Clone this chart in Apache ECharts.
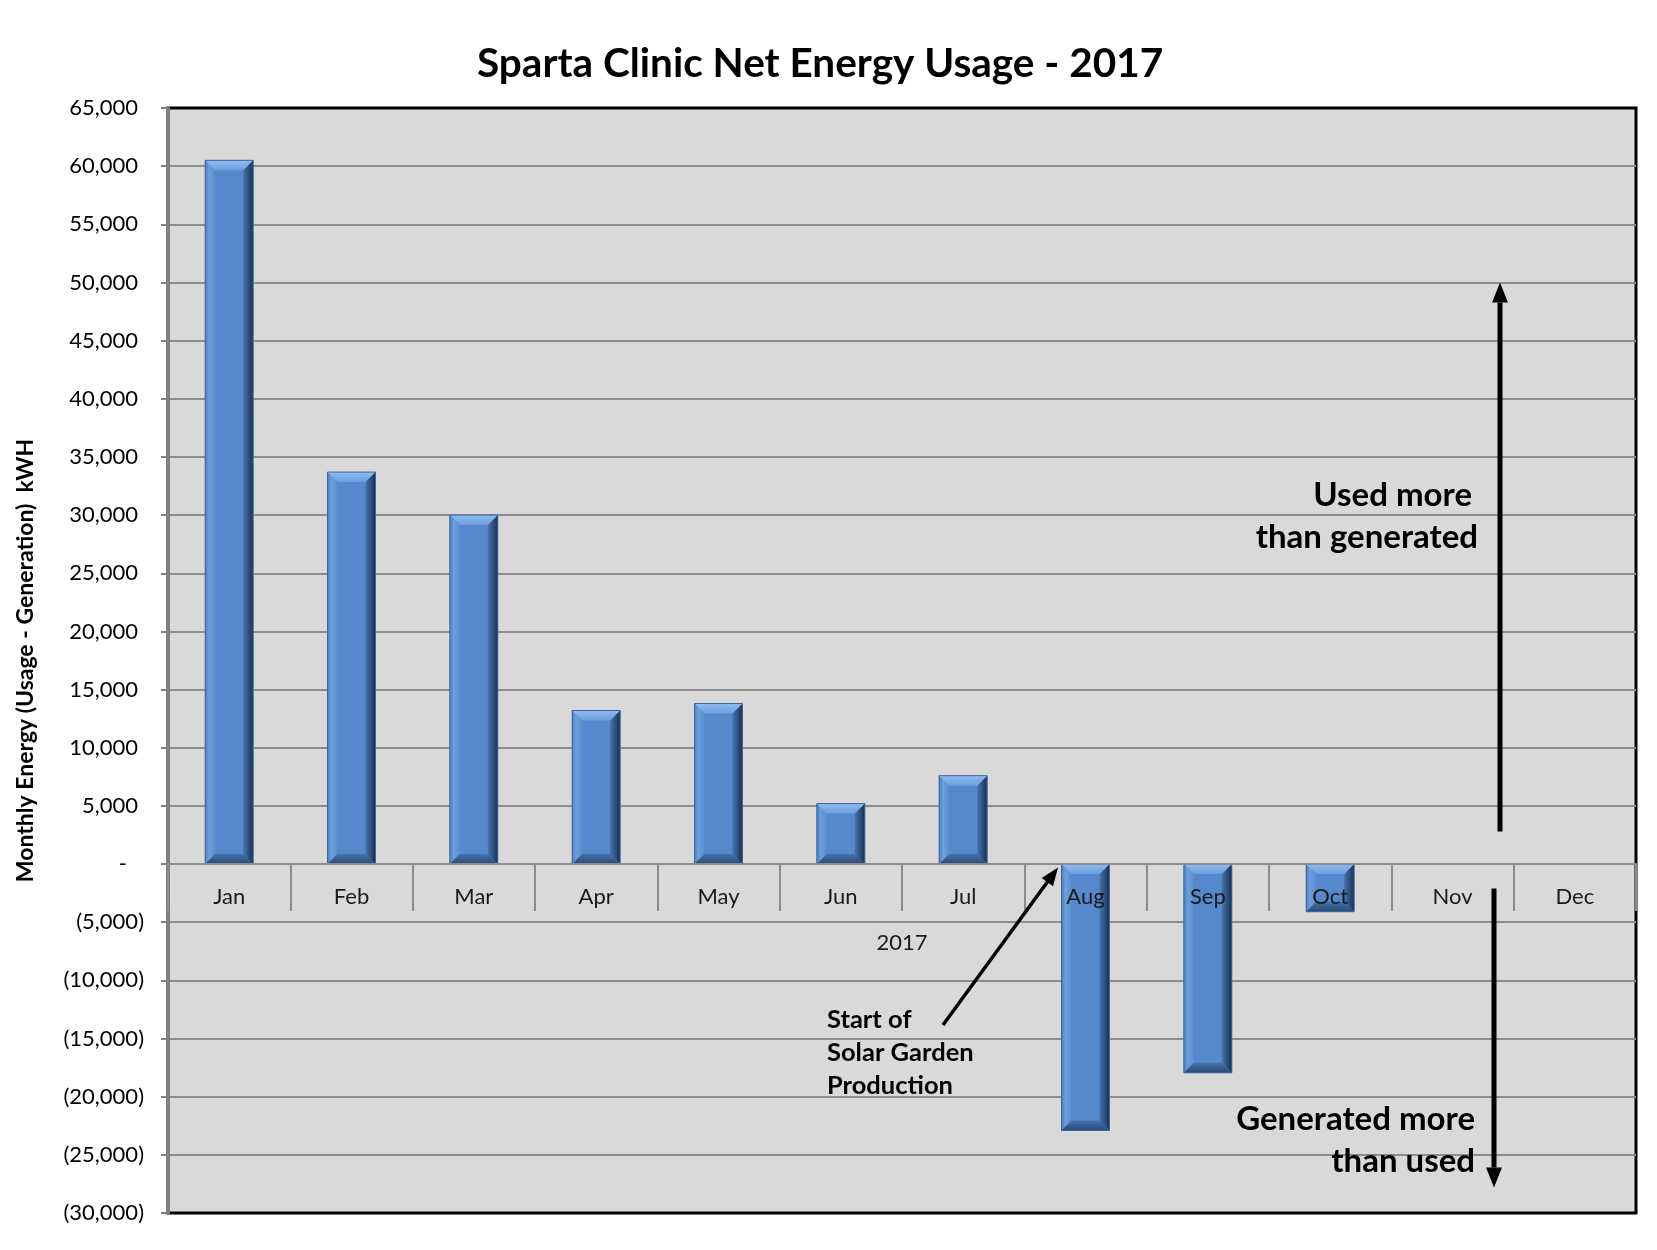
<!DOCTYPE html>
<html>
<head>
<meta charset="utf-8">
<script src="https://cdn.jsdelivr.net/npm/echarts@6/dist/echarts.min.js"></script>
<style>
html,body{margin:0;padding:0;background:#fff;}
#chart{width:1657px;height:1250px;}
</style>
</head>
<body>
<div id="chart"></div>
<script>
// ---- data ----
const titleText = 'Sparta Clinic Net Energy Usage - 2017';
const months = ['Jan','Feb','Mar','Apr','May','Jun','Jul','Aug','Sep','Oct','Nov','Dec'];
const netEnergy = [60500, 33700, 30000, 13200, 13800, 5200, 7600, -22900, -17950, -4100, null, null];
const yAxisTitle = 'Monthly Energy (Usage - Generation)  kWH';
const xAxisGroupLabel = '2017';
const yMin = -30000, yMax = 65000, yStep = 5000;
const noteUp = ['Used more', 'than generated'];
const noteDown = ['Generated more', 'than used'];
const noteSolar = ['Start of', 'Solar Garden', 'Production'];

const FONT = 'Lato, "Open Sans", sans-serif';

function fmtNum(v){ return Math.abs(v).toLocaleString('en-US'); }

const chart = echarts.init(document.getElementById('chart'), null, {renderer:'canvas'});

const GRID = {left:168, right:21, top:108, bottom:37};
const plotH = 1250 - GRID.top - GRID.bottom;
const zeroOffset = plotH * (0 - yMin) / (yMax - yMin);

const barData = months.map((m, i) => [i, netEnergy[i]]);

// bevelled bar drawn through the axes' own coordinate conversion
function renderBevelBar(params, api){
  const v = api.value(1);
  if (v === null || v === undefined || isNaN(v)) return null;
  const i = api.value(0);
  const pZero = api.coord([i, 0]);
  const pVal = api.coord([i, v]);
  const bw = api.size([1, 0])[0] * 0.392;
  const x0 = pZero[0] - bw/2, x1 = pZero[0] + bw/2;
  const yTop = Math.min(pZero[1], pVal[1]), yBot = Math.max(pZero[1], pVal[1]);
  const d = Math.min(10, (yBot - yTop)/2);
  const G = echarts.graphic;
  return {
    type:'group',
    children:[
      {type:'rect', shape:{x:x0, y:yTop, width:bw, height:yBot-yTop}, style:{fill:'#5588cc'}},
      {type:'polygon', shape:{points:[[x0,yTop],[x0+d,yTop+d],[x0+d,yBot-d],[x0,yBot]]},
        style:{fill:new G.LinearGradient(0,0,1,0,[{offset:0,color:'#4f80c2'},{offset:0.4,color:'#6d9fdc'},{offset:1,color:'#5a8dd0'}])}},
      {type:'polygon', shape:{points:[[x1,yTop],[x1-d,yTop+d],[x1-d,yBot-d],[x1,yBot]]},
        style:{fill:new G.LinearGradient(0,0,1,0,[{offset:0,color:'#4674b0'},{offset:0.6,color:'#2c4c78'},{offset:1,color:'#1b2f4c'}])}},
      {type:'polygon', shape:{points:[[x0,yTop],[x1,yTop],[x1-d,yTop+d],[x0+d,yTop+d]]},
        style:{fill:new G.LinearGradient(0,0,0,1,[{offset:0,color:'#8fbcf2'},{offset:1,color:'#6c9fe0'}])}},
      {type:'polygon', shape:{points:[[x0,yBot],[x1,yBot],[x1-d,yBot-d],[x0+d,yBot-d]]},
        style:{fill:new G.LinearGradient(0,0,0,1,[{offset:0,color:'#4472ad'},{offset:1,color:'#2a4a76'}])}},
      {type:'rect', shape:{x:x0, y:yTop, width:bw, height:yBot-yTop}, style:{fill:'none', stroke:'#3a659c', lineWidth:1}}
    ]
  };
}

chart.setOption({
  animation:false,
  backgroundColor:'#ffffff',
  title:{
    text:titleText,
    left:472,
    top:38,
    textStyle:{fontFamily:FONT, fontWeight:'bold', fontSize:40.5, color:'#000'}
  },
  grid:{
    left:GRID.left, right:GRID.right, top:GRID.top, bottom:GRID.bottom,
    outerBoundsMode:'none', containLabel:false,
    show:true, backgroundColor:'#d9d9d9', borderColor:'#000', borderWidth:3
  },
  xAxis:{
    type:'category',
    data:months,
    position:'bottom',
    offset:-zeroOffset,
    z:5,
    axisLine:{onZero:false, lineStyle:{color:'#8c8c8c', width:2}},
    axisTick:{show:true, length:47, interval:0, lineStyle:{color:'#8c8c8c', width:2}},
    axisLabel:{interval:0, margin:22, fontFamily:FONT, fontSize:22, color:'#1a1a1a'},
    name:xAxisGroupLabel,
    nameLocation:'middle',
    nameGap:68,
    nameTextStyle:{fontFamily:FONT, fontSize:22, color:'#1a1a1a'},
    splitLine:{show:false}
  },
  yAxis:{
    type:'value',
    min:yMin, max:yMax, interval:yStep,
    axisLine:{show:true, lineStyle:{color:'#7f7f7f', width:3}},
    axisTick:{show:true, length:7, lineStyle:{color:'#7f7f7f', width:2}},
    splitLine:{show:true, showMinLine:false, showMaxLine:false, lineStyle:{color:'#8c8c8c', width:2}},
    axisLabel:{
      margin:24,
      fontFamily:FONT, fontSize:22, color:'#000',
      formatter:function(v){
        if(v>0) return '{p|'+fmtNum(v)+'}';
        if(v<0) return '{n|('+fmtNum(v)+')}';
        return '{z|-}';
      },
      rich:{
        p:{fontFamily:FONT, fontSize:22, color:'#000', padding:[0,6,0,0]},
        n:{fontFamily:FONT, fontSize:22, color:'#000'},
        z:{fontFamily:FONT, fontSize:22, color:'#000', padding:[0,17,0,0]}
      }
    },
    name:yAxisTitle,
    nameLocation:'middle',
    nameRotate:90,
    nameGap:131,
    nameTextStyle:{fontFamily:FONT, fontWeight:'bold', fontSize:23, color:'#000'}
  },
  series:[{
    type:'custom',
    name:'Net Energy',
    data:barData,
    encode:{x:0, y:1},
    renderItem:renderBevelBar,
    z:2
  }]
});

// ---- annotations (arrows and notes) ----
function py(v){ return chart.convertToPixel({yAxisIndex:0}, v); }
function arrowHead(tx, ty, fx, fy, len, half){
  const dx = tx-fx, dy = ty-fy, L = Math.hypot(dx,dy);
  const ux = dx/L, uy = dy/L;
  const bx = tx-ux*len, by = ty-uy*len;
  return {base:[bx,by], pts:[[tx,ty],[bx-uy*half, by+ux*half],[bx+uy*half, by-ux*half]]};
}
function arrow(fx, fy, tx, ty, w, len, half){
  const h = arrowHead(tx, ty, fx, fy, len, half);
  return [
    {type:'line', z:50, shape:{x1:fx, y1:fy, x2:h.base[0], y2:h.base[1]}, style:{stroke:'#000', lineWidth:w}},
    {type:'polygon', z:50, shape:{points:h.pts}, style:{fill:'#000'}}
  ];
}
function txt(s, x, y, size, align){
  return {type:'text', z:50, style:{text:s, x:x, y:y, font:'bold '+size+'px '+FONT, fill:'#000',
    align:align, textAlign:align, verticalAlign:'middle', textVerticalAlign:'middle'}};
}

const g = [];
g.push(...arrow(1500, py(2800), 1500, py(50000), 5, 20, 8));
g.push(...arrow(1494, py(-2100), 1494, py(-27800), 5, 20, 8));
g.push(...arrow(943, 1025, 1058, py(-300), 3.5, 18, 7));
g.push(txt(noteUp[0], 1472, 495, 33, 'right'));
g.push(txt(noteUp[1], 1478, 537, 33, 'right'));
g.push(txt(noteDown[0], 1475, 1119, 33, 'right'));
g.push(txt(noteDown[1], 1475, 1161, 33, 'right'));
g.push(txt(noteSolar[0], 827, 1020, 25.5, 'left'));
g.push(txt(noteSolar[1], 827, 1053, 25.5, 'left'));
g.push(txt(noteSolar[2], 827, 1086, 25.5, 'left'));
chart.setOption({graphic:g});
</script>
</body>
</html>
